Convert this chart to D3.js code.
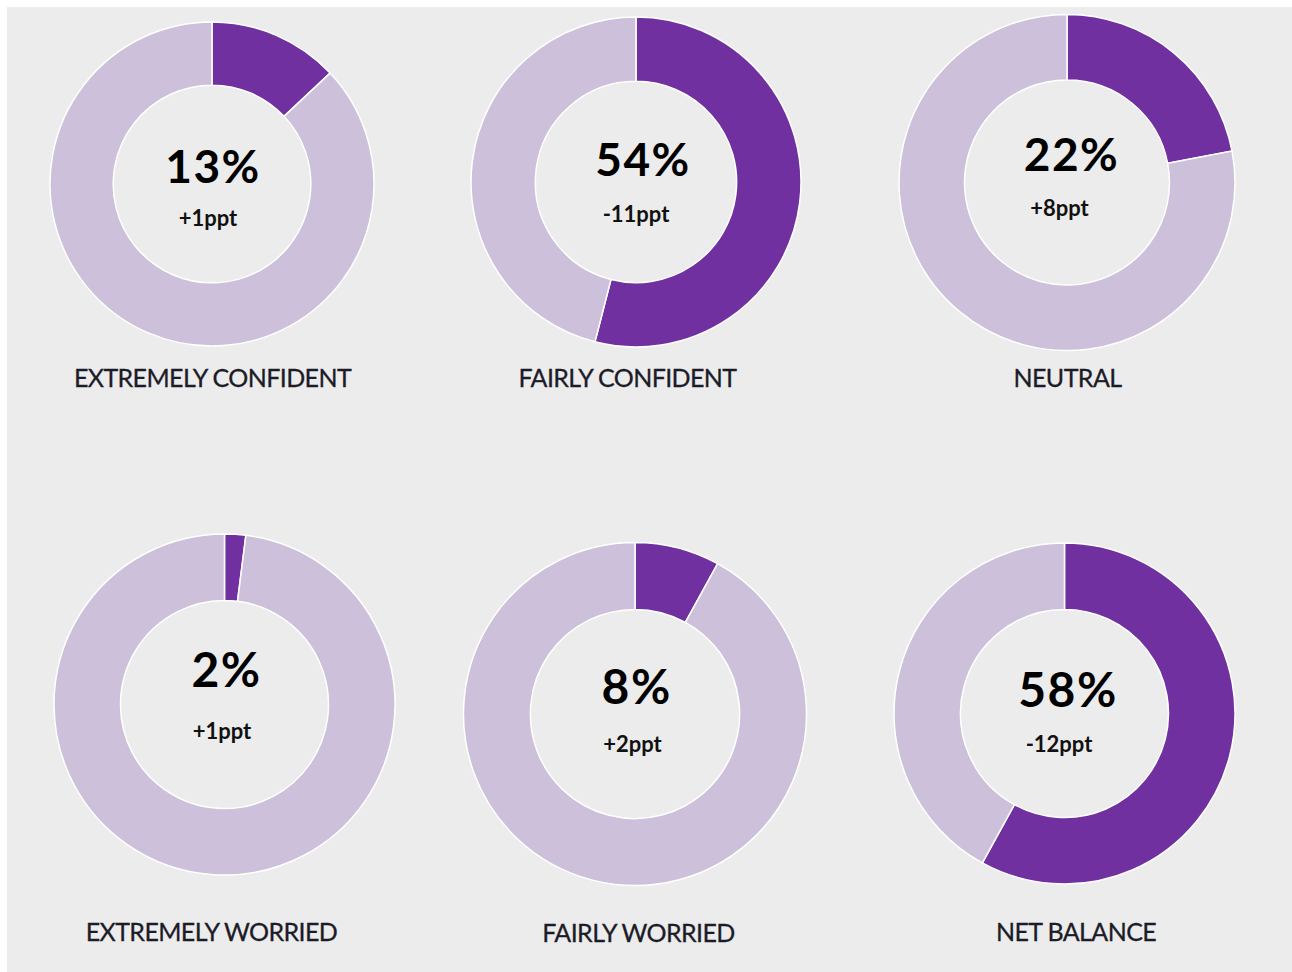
<!DOCTYPE html>
<html>
<head>
<meta charset="utf-8">
<script src="https://cdn.jsdelivr.net/npm/d3@7"></script>
<style>
  body { margin: 0; background: #fff; }
  svg { display: block; }
</style>
</head>
<body>
<div id="chart"></div>
<script>
// survey shares (percent) and change vs previous wave
var categories = ["EXTREMELY CONFIDENT", "FAIRLY CONFIDENT", "NEUTRAL",
                  "EXTREMELY WORRIED", "FAIRLY WORRIED", "NET BALANCE"];
var shares  = [13, 54, 22, 2, 8, 58];
var changes = ["+1ppt", "-11ppt", "+8ppt", "+1ppt", "+2ppt", "-12ppt"];

// where each donut sits on the page (the source images were pasted unevenly)
var layout = [
  {cx: 212,  cy: 184,   r: 162,   pct: [1, -1],   ppt: [-4, 42],    lab: [0.5, 203],  fs: 46},
  {cx: 636,  cy: 182,   r: 165,   pct: [7, -6],   ppt: [0, 40],     lab: [-8.5, 205], fs: 46},
  {cx: 1067, cy: 182.5, r: 168,   pct: [4.5, -12], ppt: [-7.5, 33], lab: [0.5, 204.5], fs: 46},
  {cx: 224.5, cy: 704.5, r: 170.5, pct: [2, -18],  ppt: [-2.5, 34], lab: [-13, 236.5], fs: 48},
  {cx: 635,  cy: 714,   r: 171.5, pct: [1.7, -10], ppt: [-2.5, 38], lab: [3.5, 228],  fs: 48},
  {cx: 1064.5, cy: 713.5, r: 170.5, pct: [3.5, -6.5], ppt: [-5.5, 38.5], lab: [11.5, 227.5], fs: 48}
];

var width = 1292, height = 972;
var purple = "#7030a0", lilac = "#ccc0da";

var svg = d3.select("#chart").append("svg")
    .attr("width", width)
    .attr("height", height);

svg.append("rect")
    .attr("x", 7).attr("y", 7)
    .attr("width", width - 7).attr("height", height - 7)
    .attr("fill", "#ececec");

var pie = d3.pie().sort(null).value(function(d) { return d; });

var color = d3.scaleOrdinal().domain([0, 1]).range([purple, lilac]);

var panels = svg.selectAll("g.donut")
    .data(shares)
    .enter()
    .append("g")
    .attr("class", "donut")
    .attr("transform", function(d, i) { return "translate(" + layout[i].cx + "," + layout[i].cy + ")"; });

panels.each(function(v, i) {
  var g = d3.select(this);
  var L = layout[i];
  var arc = d3.arc().outerRadius(L.r).innerRadius(L.r * 0.61);

  g.selectAll("path")
    .data(pie([v, 100 - v]))
    .enter()
    .append("path")
    .attr("d", arc)
    .attr("fill", function(d, j) { return color(j); })
    .attr("stroke", "#fff")
    .attr("stroke-width", 1.5);

  g.append("text")
    .attr("x", L.pct[0]).attr("y", L.pct[1])
    .attr("text-anchor", "middle")
    .style("font-family", "Lato, 'Open Sans', sans-serif")
    .style("font-weight", 700)
    .style("font-size", L.fs + "px")
    .style("letter-spacing", "1.5px")
    .attr("fill", "#000")
    .text(v + "%");

  g.append("text")
    .attr("x", L.ppt[0]).attr("y", L.ppt[1])
    .attr("text-anchor", "middle")
    .style("font-family", "Lato, 'Open Sans', sans-serif")
    .style("font-weight", 700)
    .style("font-size", "22px")
    .attr("fill", "#111")
    .text(changes[i]);

  g.append("text")
    .attr("x", L.lab[0]).attr("y", L.lab[1])
    .attr("text-anchor", "middle")
    .style("font-family", "Lato, sans-serif")
    .style("font-size", "25px")
    .style("letter-spacing", "-0.6px")
    .attr("fill", "#1c1c28")
    .attr("stroke", "#1c1c28")
    .attr("stroke-width", 0.3)
    .text(categories[i]);
});
</script>
</body>
</html>
